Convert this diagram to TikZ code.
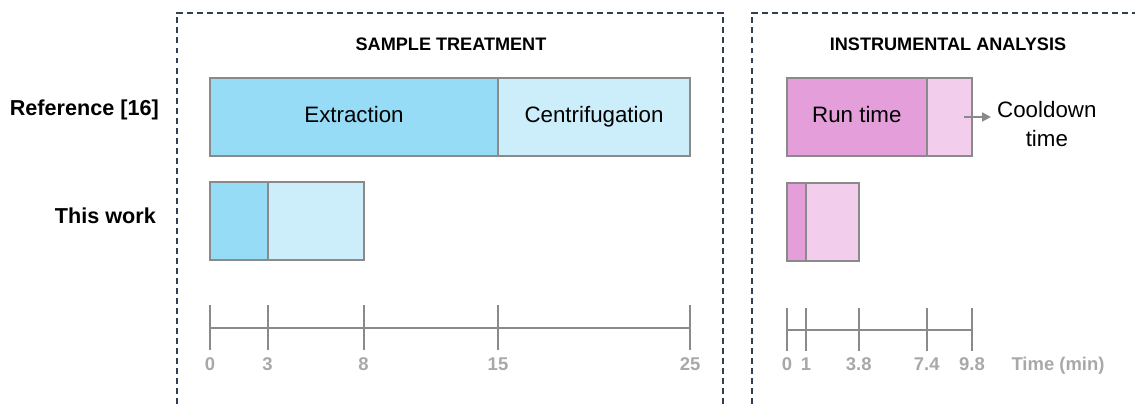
\documentclass[tikz,border=0pt]{standalone}
\usepackage{fontspec}
\setmainfont{Liberation Sans}
\usepackage{tikz}
\usetikzlibrary{positioning,arrows.meta}

\definecolor{extblue}{HTML}{96DCF6}
\definecolor{cenblue}{HTML}{CCEEFB}
\definecolor{runpink}{HTML}{E49EDA}
\definecolor{coolpink}{HTML}{F2CDEC}
\definecolor{segline}{HTML}{8A8A8A}
\definecolor{ticklbl}{HTML}{A8A8A8}
\definecolor{framecol}{HTML}{2E4053}
\newcommand{\pxl}{0.02cm}

\begin{document}
\begin{tikzpicture}[x=0.02cm, y=-0.02cm, >={Triangle[length=5pt,width=5pt]},
  seg/.style={rectangle, draw=segline, line width=1.1pt, inner sep=0pt, outer sep=0pt, minimum height=78*\pxl, anchor=north west, text height=9.5pt, text depth=3.5pt, font=\fontsize{12.7}{15.5}\selectfont},
  frame/.style={draw=framecol, line width=0.85pt, dash pattern=on 3.4pt off 2.3pt},
  axis/.style={draw=segline, line width=1.1pt},
  tick/.style={text=ticklbl, font=\bfseries\fontsize{10.5}{12}\selectfont, inner sep=1pt},
  rowlbl/.style={anchor=east, font=\bfseries\fontsize{12.3}{14}\selectfont},
  title/.style={font=\bfseries\fontsize{10.3}{12}\selectfont}]
  \useasboundingbox (0,0) rectangle (1135,404);

  % Frames
  \draw[frame] (177,404) -- (177,13) -- (723,13) -- (723,404);
  \draw[frame] (752,404) -- (752,13) -- (1135,13);

  % Titles and row labels
  \node[title] (sampt) at (451,44) {SAMPLE TREATMENT};
  \node[title] (instr) at (948,44) {INSTRUMENTAL ANALYSIS};
  \node[rowlbl] (refrow) at (165,110) {Reference [16]};
  \node[rowlbl] (ownrow) at (162,216) {This work};

  % Sample treatment bars
  \node[seg, fill=extblue, minimum width=288*\pxl] (extr) at (210,78) {Extraction};
  \node[seg, fill=cenblue, minimum width=192*\pxl, right=0pt of extr] (cent) {Centrifugation};
  \node[seg, fill=extblue, minimum width=57.6*\pxl] (extrB) at (210,182) {};
  \node[seg, fill=cenblue, minimum width=96*\pxl, right=0pt of extrB] (centB) {};

  % Instrumental analysis bars
  \node[seg, fill=runpink, minimum width=139.7*\pxl] (run) at (787,78) {Run time};
  \node[seg, fill=coolpink, minimum width=45.3*\pxl, right=0pt of run] (cool) {};
  \node[seg, fill=runpink, minimum width=18.9*\pxl] (runB) at (787,183) {};
  \node[seg, fill=coolpink, minimum width=52.9*\pxl, right=0pt of runB] (coolB) {};

  % Cooldown label
  \coordinate (cdtail) at (964,117);
  \node[anchor=west, align=center, font=\fontsize{12.7}{16}\selectfont] (cdtxt) at (991,124) {Cooldown\\time};
  \draw[->, segline, line width=1.1pt] (cdtail) -- (cdtail -| cdtxt.west);

  % Axes
  \draw[axis] (210,328) -- (690,328);
  \foreach \t [count=\i] in {0,3,8,15,25} {
    \draw[axis] (210+19.2*\t,305) -- (210+19.2*\t,350);
    \node[tick] (lt\i) at (210+19.2*\t,364) {\t};
  }
  \draw[axis] (787,330) -- (972,330);
  \foreach \t [count=\i] in {0,1,3.8,7.4,9.8} {
    \draw[axis] (787+18.88*\t,308) -- (787+18.88*\t,351);
    \node[tick] (rt\i) at (787+18.88*\t,364) {\t};
  }
  \node[tick] (tunit) at (1058,366) {Time (min)};

\end{tikzpicture}
\end{document}
